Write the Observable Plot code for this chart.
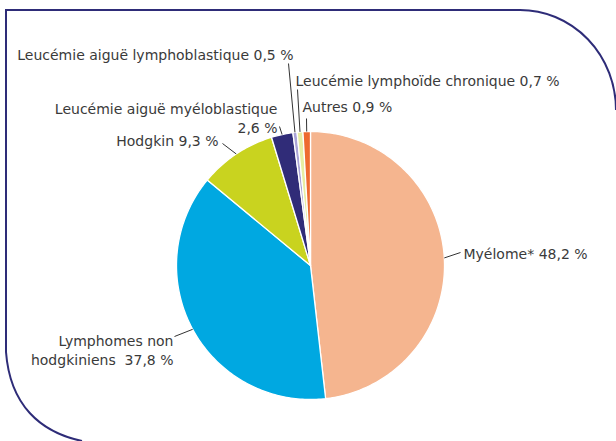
<!DOCTYPE html>
<html><head><meta charset="utf-8">
<script src="https://cdn.jsdelivr.net/npm/d3@7"></script>
<script src="https://cdn.jsdelivr.net/npm/@observablehq/plot@0.6"></script>
<style>body{margin:0;background:#fff;overflow:hidden}</style>
</head><body><div id="chart"></div>
<script>
const categories = ["Myélome*", "Lymphomes non hodgkiniens", "Hodgkin", "Leucémie aiguë myéloblastique", "Leucémie aiguë lymphoblastique", "Leucémie lymphoïde chronique", "Autres"];
const values = [48.2, 37.8, 9.3, 2.6, 0.5, 0.7, 0.9];
const labels = ["Myélome* 48,2 %", "Lymphomes non\nhodgkiniens  37,8 %", "Hodgkin 9,3 %", "Leucémie aiguë myéloblastique\n2,6 %", "Leucémie aiguë lymphoblastique 0,5 %", "Leucémie lymphoïde chronique 0,7 %", "Autres 0,9 %"];
const colors = ["#F5B58F", "#00A8E1", "#C9D31F", "#302C78", "#A9A3D6", "#E8EDA2", "#EE6A30"];

// layout (pixels): pie centre, radius, label anchors
const W = 616, H = 441, CX = 310, CY = 265, R = 134;
const FS = 14;
const labelLayout = [
  {tx: 463, ty: 258, anchor: "start", lx: 460, ly: 252},
  {tx: 173, ty: 364, anchor: "end", lx: 174, ly: 336},
  {tx: 218, ty: 145, anchor: "end", lx: 222, ly: 143},
  {tx: 277, ty: 132, anchor: "end", lx: 279, ly: 126},
  {tx: 293, ty: 59, anchor: "end", lx: 288, ly: 63},
  {tx: 295, ty: 85, anchor: "start", lx: 297, ly: 89},
  {tx: 302, ty: 111, anchor: "start", lx: 306, ly: 118}
];
const toX = px => (px - CX) / R;
const toY = py => (CY - py) / R;

const total = d3.sum(values);
let acc = 0;
const slices = values.map((v, i) => {
  const a0 = acc / total * 2 * Math.PI;
  acc += v;
  const a1 = acc / total * 2 * Math.PI;
  return {cat: categories[i], a0, a1, mid: (a0 + a1) / 2};
});
const poly = [];
slices.forEach(s => {
  poly.push({cat: s.cat, x: 0, y: 0});
  const n = Math.max(2, Math.ceil((s.a1 - s.a0) / (Math.PI / 180)));
  for (let k = 0; k <= n; k++) {
    const a = s.a0 + (s.a1 - s.a0) * k / n;
    poly.push({cat: s.cat, x: Math.sin(a), y: Math.cos(a)});
  }
  poly.push({cat: s.cat, x: 0, y: 0});
});
const leaders = slices.map((s, i) => ({
  x1: Math.sin(s.mid), y1: Math.cos(s.mid),
  x2: toX(labelLayout[i].lx), y2: toY(labelLayout[i].ly)
}));
const texts = labels.map((t, i) => ({
  text: t, x: toX(labelLayout[i].tx), y: toY(labelLayout[i].ty), anchor: labelLayout[i].anchor
}));

const chart = Plot.plot({
  width: W, height: H, margin: 0,
  x: {domain: [toX(0), toX(W)], axis: null},
  y: {domain: [toY(H), toY(0)], axis: null},
  color: {domain: categories, range: colors},
  style: {background: "#fff", fontFamily: "'DejaVu Sans', sans-serif"},
  marks: [
    Plot.line(poly, {x: "x", y: "y", z: "cat", fill: "cat", stroke: "#fff", strokeWidth: 1.3, strokeLinejoin: "round"}),
    Plot.link(leaders, {x1: "x1", y1: "y1", x2: "x2", y2: "y2", stroke: "#333", strokeWidth: 1}),
    Plot.text(texts.filter(d => d.anchor === "start"), {x: "x", y: "y", text: "text", textAnchor: "start", lineAnchor: "bottom", lineHeight: 19 / FS, fontSize: FS, fill: "#3a3a3a"}),
    Plot.text(texts.filter(d => d.anchor === "end"), {x: "x", y: "y", text: "text", textAnchor: "end", lineAnchor: "bottom", lineHeight: 19 / FS, fontSize: FS, fill: "#3a3a3a"})
  ]
});
document.getElementById("chart").appendChild(chart);
// decorative frame
d3.select(chart).insert("path", ":first-child")
  .attr("d", "M82,441 C40,432 10,405 6,352 L6,10 L520,10 A96,100 0 0 1 616,110")
  .attr("fill", "none").attr("stroke", "#2E2C78").attr("stroke-width", 2);
</script>
</body></html>
